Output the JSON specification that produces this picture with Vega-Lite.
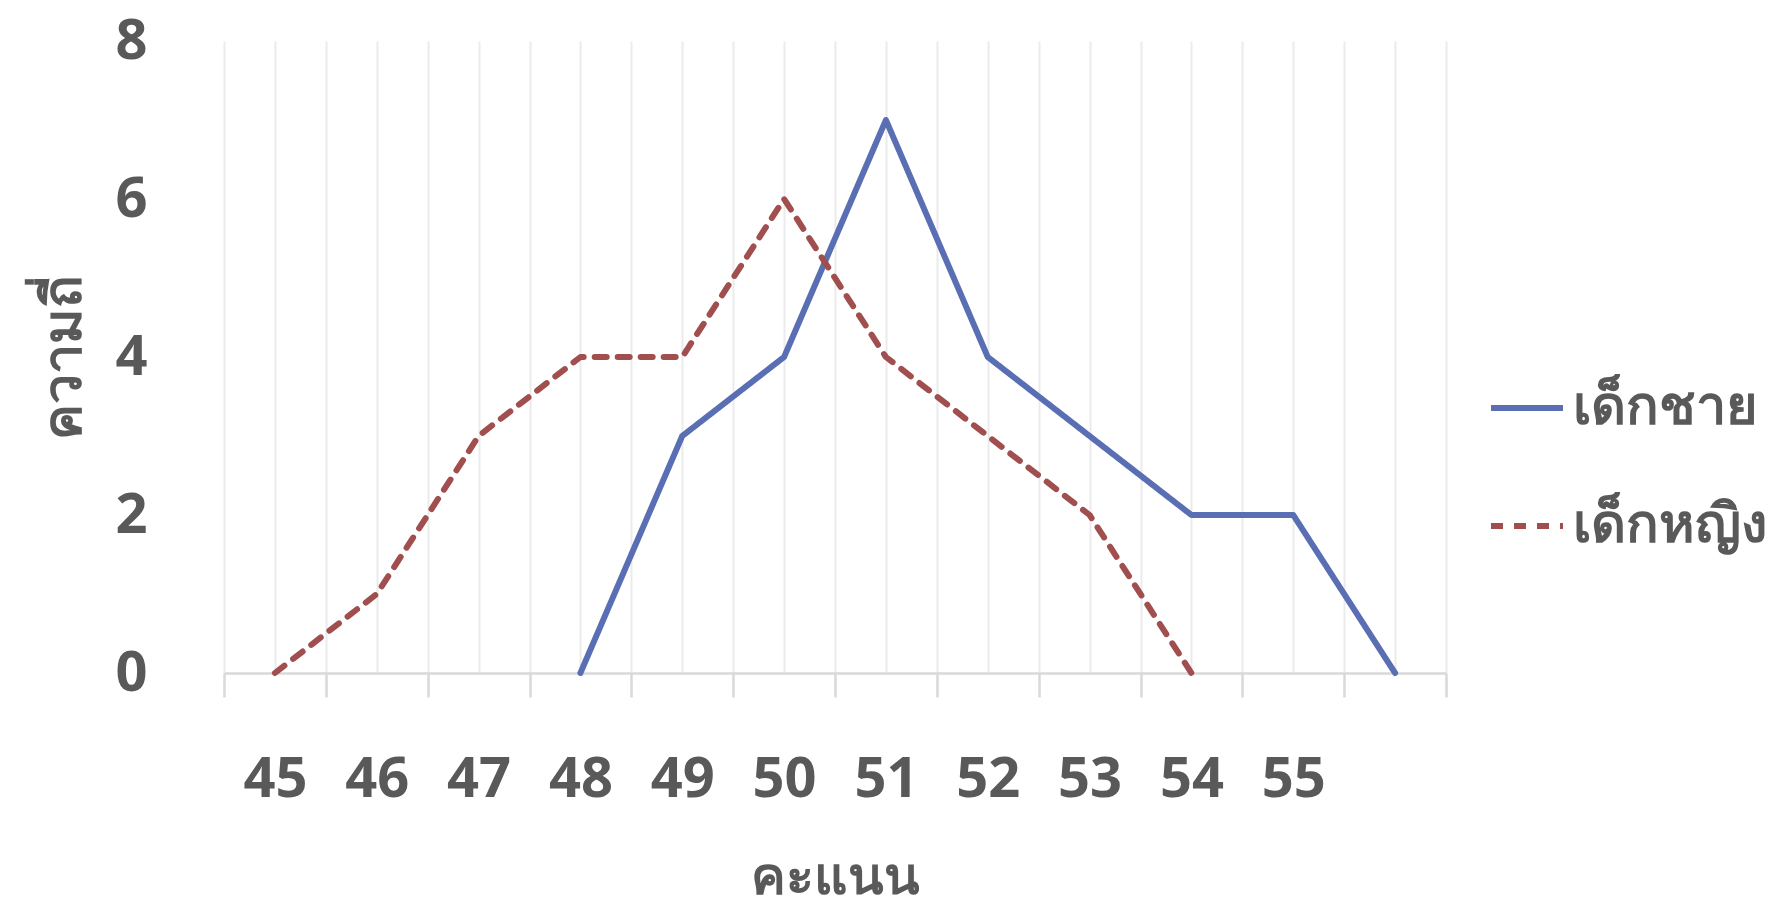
{
  "$schema": "https://vega.github.io/schema/vega-lite/v6.json",
  "autosize": {"type": "none"},
  "width": 1222,
  "height": 632,
  "padding": {"left": 224, "top": 41, "right": 334, "bottom": 234},
  "background": "white",
  "config": {
    "view": {"stroke": null},
    "font": "Noto Sans"
  },
  "data": {
    "values": [
      {"score": 48, "count": 0, "group": "เด็กชาย"},
      {"score": 49, "count": 3, "group": "เด็กชาย"},
      {"score": 50, "count": 4, "group": "เด็กชาย"},
      {"score": 51, "count": 7, "group": "เด็กชาย"},
      {"score": 52, "count": 4, "group": "เด็กชาย"},
      {"score": 53, "count": 3, "group": "เด็กชาย"},
      {"score": 54, "count": 2, "group": "เด็กชาย"},
      {"score": 55, "count": 2, "group": "เด็กชาย"},
      {"score": 56, "count": 0, "group": "เด็กชาย"},
      {"score": 45, "count": 0, "group": "เด็กหญิง"},
      {"score": 46, "count": 1, "group": "เด็กหญิง"},
      {"score": 47, "count": 3, "group": "เด็กหญิง"},
      {"score": 48, "count": 4, "group": "เด็กหญิง"},
      {"score": 49, "count": 4, "group": "เด็กหญิง"},
      {"score": 50, "count": 6, "group": "เด็กหญิง"},
      {"score": 51, "count": 4, "group": "เด็กหญิง"},
      {"score": 52, "count": 3, "group": "เด็กหญิง"},
      {"score": 53, "count": 2, "group": "เด็กหญิง"},
      {"score": 54, "count": 0, "group": "เด็กหญิง"}
    ]
  },
  "mark": {"type": "line", "strokeWidth": 6, "strokeCap": "round", "strokeJoin": "round"},
  "encoding": {
    "x": {
      "field": "score",
      "type": "quantitative",
      "scale": {"domain": [44.5, 56.5], "nice": false, "zero": false},
      "axis": {
        "title": "คะแนน",
        "values": [44.5, 45, 45.5, 46, 46.5, 47, 47.5, 48, 48.5, 49, 49.5, 50, 50.5, 51, 51.5, 52, 52.5, 53, 53.5, 54, 54.5, 55, 55.5, 56, 56.5],
        "labelExpr": "(datum.value % 1 == 0 && datum.value <= 55) ? format(datum.value, 'd') : ''",
        "grid": true,
        "gridColor": "#EBEBEB",
        "gridWidth": 2,
        "domainColor": "#D9D9D9",
        "domainWidth": 2.5,
        "tickColor": "#D9D9D9",
        "tickWidth": 2.5,
        "tickSize": 24,
        "tickOpacity": {"condition": {"test": "datum.value % 1 != 0", "value": 1}, "value": 0},
        "labelFontSize": 56,
        "labelFontWeight": "bold",
        "labelColor": "#595959",
        "labelPadding": 55,
        "labelOverlap": false,
        "labelFlush": false,
        "labelBound": false,
        "titleFontSize": 52,
        "titleFontWeight": "bold",
        "titleColor": "#595959",
        "titleBaseline": "alphabetic",
        "titleY": 220
      }
    },
    "y": {
      "field": "count",
      "type": "quantitative",
      "scale": {"domain": [0, 8], "nice": false},
      "axis": {
        "title": "ความถี่",
        "values": [0, 2, 4, 6, 8],
        "grid": false,
        "domain": false,
        "ticks": false,
        "labelPadding": 77,
        "labelFontSize": 56,
        "labelFontWeight": "bold",
        "labelColor": "#595959",
        "titleFontSize": 54,
        "titleFontWeight": "bold",
        "titleColor": "#595959",
        "titleBaseline": "alphabetic",
        "titleAlign": "center",
        "titleAngle": -90,
        "titleX": -144,
        "titleY": 316
      }
    },
    "color": {
      "field": "group",
      "type": "nominal",
      "scale": {"domain": ["เด็กชาย", "เด็กหญิง"], "range": ["#5A6FB3", "#A04E4E"]},
      "legend": {
        "title": null,
        "orient": "none",
        "legendX": 1264,
        "legendY": 328,
        "padding": 0,
        "symbolType": "stroke",
        "symbolSize": 5184,
        "symbolStrokeWidth": 6,
        "labelFontSize": 54,
        "labelFontWeight": "bold",
        "labelColor": "#595959",
        "labelOffset": 7,
        "labelLimit": 500,
        "rowPadding": 52
      }
    },
    "strokeDash": {
      "field": "group",
      "type": "nominal",
      "scale": {"domain": ["เด็กชาย", "เด็กหญิง"], "range": [[1, 0], [12, 11]]},
      "legend": {
        "title": null,
        "orient": "none",
        "legendX": 1264,
        "legendY": 328,
        "padding": 0,
        "symbolType": "stroke",
        "symbolSize": 5184,
        "symbolStrokeWidth": 6,
        "labelFontSize": 54,
        "labelFontWeight": "bold",
        "labelColor": "#595959",
        "labelOffset": 7,
        "labelLimit": 500,
        "rowPadding": 52
      }
    }
  }
}
